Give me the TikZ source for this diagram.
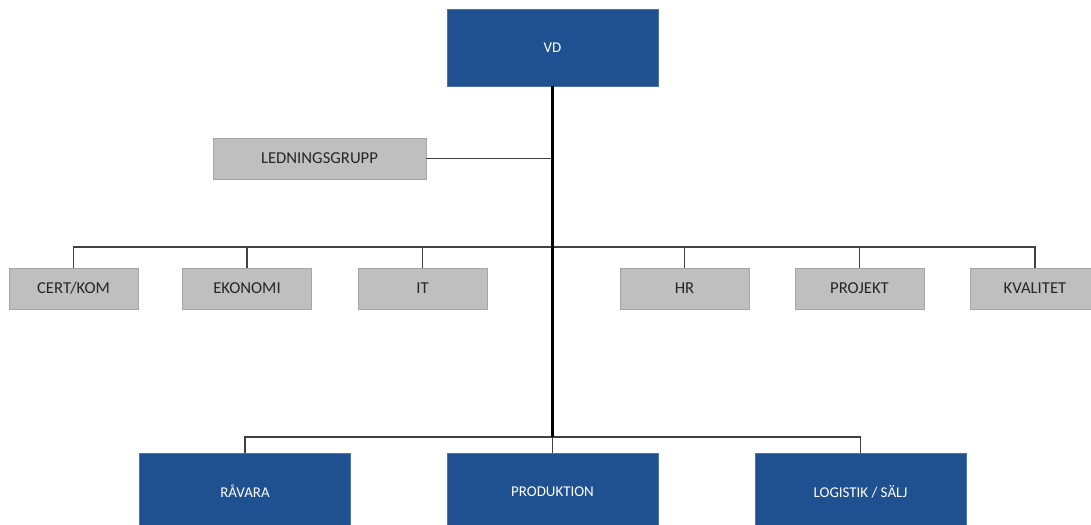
\documentclass[tikz,border=0pt]{standalone}
\usepackage{fontspec}
\setmainfont{Carlito}
\usetikzlibrary{positioning}

\definecolor{boxblue}{HTML}{1F5190}
\definecolor{boxgray}{HTML}{BFBFBF}
\definecolor{edgegray}{HTML}{A5A5A5}
\definecolor{linegray}{HTML}{404040}

\begin{document}
\begin{tikzpicture}[
            x=0.02cm, y=-0.02cm,
            bluebox/.style={fill=boxblue, draw=boxblue!80!white, text=white, minimum width=4.22cm, minimum height=1.54cm, font=\fontsize{8.5}{10}\selectfont},
            graybox/.style={fill=boxgray, draw=edgegray, text=black!85, minimum width=2.58cm, minimum height=0.82cm, font=\fontsize{9.5}{11}\selectfont},
            trunk/.style={black, line width=1.5pt},
            link/.style={linegray, line width=0.7pt},
        ]
        \useasboundingbox (0,0) rectangle (1091,524);

            % Nodes
            \node[bluebox] (vd) at (552.5,47.5) {VD};
            \node[graybox, minimum width=4.26cm] (lgrupp) at (319.5,158.5) {LEDNINGSGRUPP};
            \node[graybox] (cert) at (73.5,288.5) {CERT/KOM};
            \node[graybox] (eko) at (247,288.5) {EKONOMI};
            \node[graybox] (it) at (422.5,288.5) {IT};
            \node[graybox] (hr) at (684.5,288.5) {HR};
            \node[graybox] (proj) at (859.5,288.5) {PROJEKT};
            \node[graybox] (kval) at (1035,288.5) {KVALITET};
            \node[bluebox] (ravara) at (245,491.5) {RÅVARA};
            \node[bluebox] (prod) at (552.5,491.5) {PRODUKTION};
            \node[bluebox] (logistik) at (860.5,491.5) {LOGISTIK / SÄLJ};

            % Bus points
            \coordinate (topbus) at (552.5,247);
            \coordinate (lowbus) at (552.5,437);

            % Lines
            \draw[link] (lgrupp.east) -- (lgrupp.east -| vd.south);
            \draw[link] (cert.north) |- (topbus) -| (kval.north);
            \foreach \n in {eko, it, hr, proj}
                \draw[link] (\n.north) -- (\n.north |- topbus);
            \draw[link] (ravara.north) |- (lowbus) -| (logistik.north);
            \draw[link] (prod.north) -- (lowbus);
            \draw[trunk] (vd.south) -- (lowbus);

        \end{tikzpicture}
\end{document}
